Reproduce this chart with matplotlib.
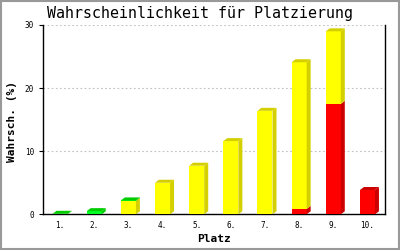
import numpy as np
import matplotlib
matplotlib.use('Agg')
import matplotlib.pyplot as plt
from matplotlib.patches import Polygon, Rectangle

# data (stacked: red at the bottom, yellow, green on top)
plaetze = ['1.', '2.', '3.', '4.', '5.', '6.', '7.', '8.', '9.', '10.']
rot = [0, 0, 0, 0, 0, 0, 0, 0.85, 17.5, 3.85]
gelb = [0, 0, 2.1, 5.0, 7.7, 11.6, 16.4, 23.25, 11.5, 0]
gruen = [0.08, 0.5, 0.1, 0, 0, 0, 0, 0, 0, 0]

serien = [
    (rot, '#ff0000', '#cc0000'),
    (gelb, '#ffff00', '#d4d000'),
    (gruen, '#00ff22', '#00cc00'),
]

plt.rcParams['font.family'] = ['DejaVu Sans Mono']

fig = plt.figure(figsize=(4, 2.5), dpi=100)
ax = fig.add_axes([0.1075, 0.1428, 0.8555, 0.7572])
ax.set_xlim(0.5, 10.52)
ax.set_ylim(0, 30)

breite = 0.44
dx = 0.117   # Tiefe in x (Dateneinheiten)
dy = 0.475   # Tiefe in y (Dateneinheiten)

x = np.arange(1, len(plaetze) + 1)
boden = np.zeros(len(plaetze))
oben_farbe = [None] * len(plaetze)
for werte, front, seite in serien:
    werte = np.array(werte, dtype=float)
    for i in range(len(x)):
        if werte[i] <= 0:
            continue
        x0 = x[i] - breite / 2
        x1 = x[i] + breite / 2
        b = boden[i]
        t = b + werte[i]
        ax.add_patch(Rectangle((x0, b), breite, werte[i], facecolor=front,
                               edgecolor='none', zorder=3))
        ax.add_patch(Polygon([(x1, b), (x1 + dx, b + dy), (x1 + dx, t + dy), (x1, t)],
                             closed=True, facecolor=seite, edgecolor='none', zorder=3))
        oben_farbe[i] = seite
    boden = boden + werte

# Deckflaechen
for i in range(len(x)):
    if oben_farbe[i] is None:
        continue
    x0 = x[i] - breite / 2
    x1 = x[i] + breite / 2
    t = boden[i]
    ax.add_patch(Polygon([(x0, t), (x1, t), (x1 + dx, t + dy), (x0 + dx, t + dy)],
                         closed=True, facecolor=oben_farbe[i], edgecolor='none', zorder=4))

# Achsen
ax.spines['top'].set_visible(False)
for s in ['left', 'right', 'bottom']:
    ax.spines[s].set_linewidth(1.0)
    ax.spines[s].set_color('black')
ax.set_yticks([0, 10, 20, 30])
ax.set_xticks(x)
ax.set_xticklabels(plaetze)
ax.tick_params(axis='y', length=3, width=0.8, pad=3.5, labelsize=5.5)
ax.tick_params(axis='x', length=0, pad=4.5, labelsize=5.5)
ax.yaxis.grid(True, color='#c0c0c0', linestyle=(0, (1.5, 2.2)), linewidth=0.8)
ax.set_axisbelow(True)

fig.text(0.5, 0.945, 'Wahrscheinlichkeit für Platzierung', ha='center', va='center',
         fontsize=10.8)
fig.text(0.03, 0.516, 'Wahrsch. (%)', rotation=90, ha='center', va='center',
         fontsize=8, fontweight='bold')
fig.text(0.535, 0.044, 'Platz', ha='center', va='center', fontsize=8, fontweight='bold')

# grauer Rahmen
fig.add_artist(Rectangle((0.002, 0.003), 0.995, 0.994, transform=fig.transFigure,
                         fill=False, edgecolor='#999999', linewidth=1.5))

fig.savefig('out.png', dpi=100)
